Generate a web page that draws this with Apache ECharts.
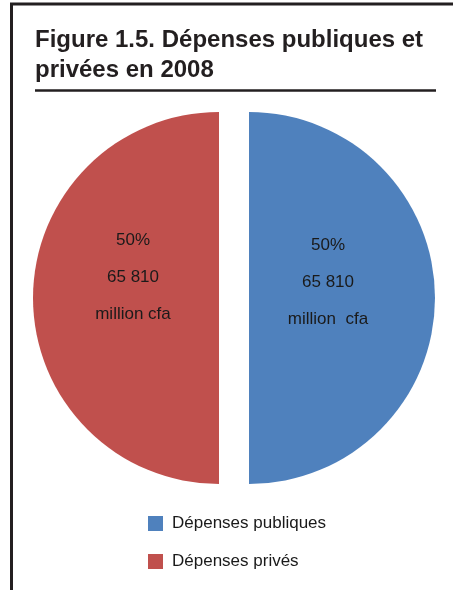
<!DOCTYPE html>
<html>
<head>
<meta charset="utf-8">
<script src="https://cdn.jsdelivr.net/npm/echarts@6/dist/echarts.min.js"></script>
<style>
html, body { margin: 0; padding: 0; background: #fff; }
#chart { width: 453px; height: 593px; }
</style>
</head>
<body>
<div id="chart"></div>
<script>
// Spending split for 2008
const categories = ['Dépenses publiques', 'Dépenses privés'];
const values = [65810, 65810];
const units = ['million  cfa', 'million cfa'];
const colors = ['#4F81BD', '#C0504D'];

const titleLines = ['Figure 1.5. Dépenses publiques et', 'privées en 2008'];

// horizontal nudge (right / left padding) and extra bottom space lifting each label
const labelPadding = [[0, 34, 0, 0], [0, 0, 0, 20]];
const labelLift = [32, 42];

function formatThousands(v) {
  return String(v).replace(/\B(?=(\d{3})+(?!\d))/g, ' ');
}

const chart = echarts.init(document.getElementById('chart'), null, { renderer: 'canvas' });

chart.setOption({
  animation: false,
  backgroundColor: '#ffffff',
  graphic: [
    // frame: top and left borders
    { type: 'line', shape: { x1: 10, y1: 4, x2: 453, y2: 4 }, style: { stroke: '#231f20', lineWidth: 3 } },
    { type: 'line', shape: { x1: 11.5, y1: 3, x2: 11.5, y2: 590 }, style: { stroke: '#231f20', lineWidth: 3 } },
    // title
    {
      type: 'text', left: 35, top: 25,
      style: {
        text: titleLines.join('\n'),
        font: 'bold 24px "Liberation Sans", Arial, sans-serif',
        fill: '#231f20',
        lineHeight: 30
      }
    },
    // rule below title
    { type: 'line', shape: { x1: 35, y1: 90.5, x2: 436, y2: 90.5 }, style: { stroke: '#231f20', lineWidth: 2.5 } }
  ],
  legend: {
    orient: 'vertical',
    left: 148,
    top: 515,
    padding: 0,
    itemWidth: 15,
    itemHeight: 15,
    itemGap: 21,
    icon: 'rect',
    data: categories,
    textStyle: {
      fontFamily: '"Liberation Sans", Arial, sans-serif',
      fontSize: 17,
      color: '#1a1a1a',
      padding: [0, 0, 0, 4]
    }
  },
  series: [{
    type: 'pie',
    center: [234, 298],
    radius: [0, 186],
    startAngle: 90,
    clockwise: true,
    selectedMode: 'multiple',
    selectedOffset: 15,
    color: colors,
    emphasis: { disabled: true },
    labelLine: { show: false },
    label: {
      show: true,
      position: 'inside',
      fontFamily: '"Liberation Sans", Arial, sans-serif',
      fontSize: 17,
      color: '#1a1a1a',
      lineHeight: 37
    },
    data: categories.map(function (name, i) {
      return {
        name: name,
        value: values[i],
        selected: true,
        label: {
          padding: labelPadding[i],
          rich: {
            lift: { lineHeight: labelLift[i], height: labelLift[i], fontSize: 1 }
          },
          formatter: function (p) {
            return Math.round(p.percent) + '%\n' + formatThousands(p.value) + '\n' + units[i] + '\n{lift| }';
          }
        }
      };
    })
  }]
});
</script>
</body>
</html>
